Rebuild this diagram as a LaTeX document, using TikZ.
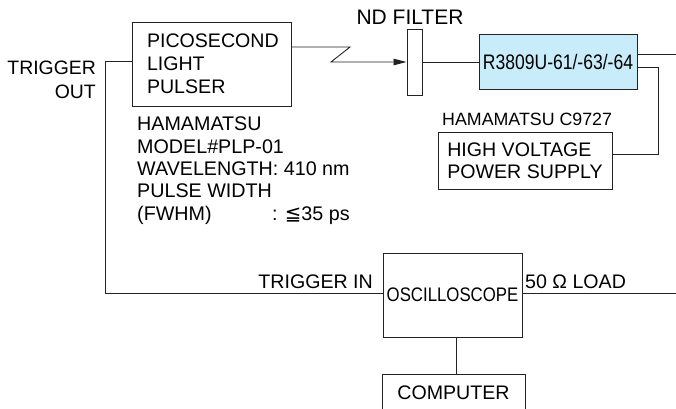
\documentclass[tikz,border=0pt]{standalone}
\usepackage{fontspec}
\setmainfont{Liberation Sans}
\newfontfamily\dejavu{DejaVu Sans}
\usetikzlibrary{arrows.meta}
\definecolor{pmtblue}{RGB}{200,236,250}
\definecolor{ink}{RGB}{35,35,35}
\begin{document}
\begin{tikzpicture}[x=1pt,y=-1pt, line join=miter,
  box/.style={draw=ink, line width=1pt, rectangle, inner sep=0pt},
  wire/.style={draw=ink, line width=0.9pt},
  txt/.style={inner sep=0pt, font=\fontsize{19.6}{23}\selectfont, text=black},
]
\clip (0,0) rectangle (676,408);

% boxes
\node[box, minimum width=159pt, minimum height=84pt, align=left, text width=129pt, inner xsep=15pt, font=\fontsize{19.6}{23}\selectfont] (pulser) at (211.5,64) {PICOSECOND\\LIGHT\\PULSER};
\node[box, minimum width=15pt, minimum height=66pt] (filter) at (414.5,62) {};
\node[box, fill=pmtblue, minimum width=158pt, minimum height=55pt] (pmt) at (558,61.5) {\scalebox{0.835}[1]{\fontsize{21}{21}\selectfont R3809U-61/-63/-64}};
\node[box, minimum width=174pt, minimum height=57pt, align=left, font=\fontsize{19.6}{22}\selectfont] (hv) at (525,160.5) {HIGH VOLTAGE\\POWER SUPPLY};
\node[box, minimum width=139pt, minimum height=84pt] (osc) at (452.5,295) {\scalebox{0.857}[1]{\fontsize{19.6}{20}\selectfont OSCILLOSCOPE}};
\node[box, anchor=north, minimum width=143pt, minimum height=46pt, text height=14pt, text depth=10.4pt, font=\fontsize{19.6}{23}\selectfont] (comp) at (453.5,374) {COMPUTER};

% labels
\node[txt, align=right, anchor=east, font=\fontsize{19.4}{24}\selectfont] (trigout) at (96,80) {TRIGGER\\OUT};
\node[txt, align=left, anchor=north west, font=\fontsize{19.7}{22.3}\selectfont] (spec) at (137,117) {HAMAMATSU\\MODEL\#PLP-01\\WAVELENGTH: 410 nm\\PULSE WIDTH\\\makebox[135pt][l]{(FWHM)}: {\dejavu ≦}35 ps};
\node[txt, font=\fontsize{21}{21}\selectfont] (ndlabel) at (410,17) {ND FILTER};
\node[txt, anchor=west, font=\fontsize{17.8}{18}\selectfont] (hvlabel) at (442,119) {HAMAMATSU C9727};
\node[txt, anchor=east] (trigin) at (373,282) {TRIGGER IN};
\node[txt, anchor=west] (load) at (525,282) {50 Ω LOAD};

% connectors
\coordinate (z1) at (350,47);
\coordinate (z2) at (331,62);
\draw[wire, -{Triangle[length=13pt,width=6.5pt]}] (pulser.east |- z1) -- (z1) -- (z2) -- (z2 -| filter.west);
\draw[wire] (filter.east |- z2) -- (z2 -| pmt.west);
\coordinate (o1) at (676,54);
\draw[wire] (o1 -| pmt.east) -- (o1);
\coordinate (h1) at (658,67);
\coordinate (h2) at (658,154);
\draw[wire] (h1 -| pmt.east) -- (h1) -- (h2) -- (h2 -| hv.east);
\coordinate (t1) at (105,61);
\coordinate (t2) at (105,293);
\draw[wire] (t1 -| pulser.west) -- (t1) -- (t2) -- (t2 -| osc.west);
\coordinate (o2) at (676,293);
\draw[wire] (o2 -| osc.east) -- (o2);
\coordinate (c1) at (456,0);
\draw[wire] (c1 |- osc.south) -- (c1 |- comp.north);
\end{tikzpicture}
\end{document}
